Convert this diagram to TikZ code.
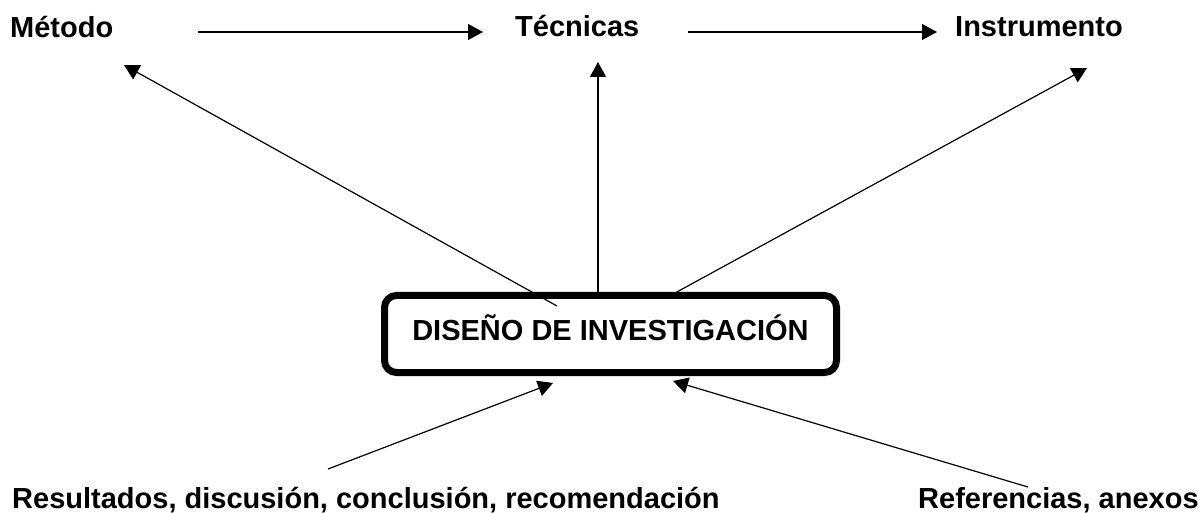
\documentclass[tikz,border=0pt]{standalone}
\usepackage{fontspec}
\setmainfont{Liberation Sans}
\usetikzlibrary{arrows.meta}

\begin{document}
\begin{tikzpicture}[x=1pt,y=-1pt,
    etiqueta/.style={anchor=base west,inner sep=0pt,font=\fontsize{29}{34}\selectfont\bfseries},
    flecha/.style={-{Triangle[length=15pt,width=16pt]},line width=1.2pt}]
  \useasboundingbox (0,0) rectangle (1203,513);
  % textos de arriba
  \node[etiqueta] (metodo) at (10,38) {Método};
  \node[etiqueta] (tecnicas) at (515,37) {Técnicas};
  \node[etiqueta] (instrumento) at (955,37) {Instrumento};
  % caja central
  \node[draw,line width=7pt,rounded corners=12pt,minimum width=452pt,minimum height=77pt,
        inner sep=0pt,text height=21pt,text depth=7pt,font=\fontsize{29}{34}\selectfont\bfseries]
        (diseno) at (610.5,334) {DISEÑO DE INVESTIGACIÓN};
  % textos de abajo
  \node[etiqueta] (resultados) at (12,508) {Resultados, discusión, conclusión, recomendación};
  \node[etiqueta] (referencias) at (918,508) {Referencias, anexos};
  % puntos libres de las flechas
  \coordinate (m1) at (198,32);
  \coordinate (t0) at (483,32);
  \coordinate (t1) at (688,32);
  \coordinate (i0) at (937,32);
  \coordinate (dm) at (557,306);
  \coordinate (m0) at (124,65);
  \coordinate (dt) at (598,293);
  \coordinate (tt) at (598,62);
  \coordinate (di) at (675,293);
  \coordinate (ii) at (1087,68);
  \coordinate (r0) at (328,469);
  \coordinate (dr) at (553,383);
  \coordinate (f0) at (1028,487);
  \coordinate (df) at (673,381);
  % flechas
  \draw[flecha] (m1) -- (t0);
  \draw[flecha] (t1) -- (i0);
  \draw[flecha] (dm) -- (m0);
  \draw[flecha] (dt) -- (tt);
  \draw[flecha] (di) -- (ii);
  \draw[flecha] (r0) -- (dr);
  \draw[flecha] (f0) -- (df);
\end{tikzpicture}
\end{document}
